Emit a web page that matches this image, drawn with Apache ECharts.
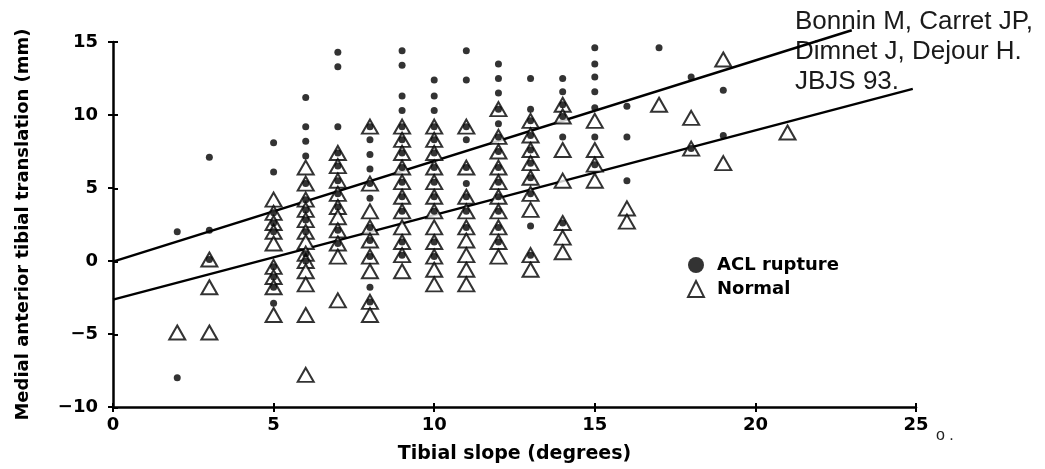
<!DOCTYPE html>
<html>
<head>
<meta charset="utf-8">
<script src="https://cdn.jsdelivr.net/npm/echarts@6/dist/echarts.min.js"></script>
<style>
  html, body { margin: 0; padding: 0; background: #fff; }
  #chart { width: 1045px; height: 469px; }
</style>
</head>
<body>
<div id="chart"></div>
<script>
// columns: [tibial slope (deg), [medial anterior tibial translation (mm), ...]]
const aclCols = [
  [2, [2.0, -8.0]],
  [3, [7.1, 2.1, 0.1]],
  [5, [8.1, 6.1, 3.3, 2.6, 2.0, -0.4, -1.1, -1.8, -2.9]],
  [6, [11.2, 9.2, 8.2, 7.2, 5.3, 4.2, 3.5, 2.8, 2.0, 0.5, 0.0]],
  [7, [14.3, 13.3, 9.2, 7.4, 6.5, 5.5, 4.6, 3.7, 2.1, 1.2]],
  [8, [9.2, 8.3, 7.3, 6.3, 5.3, 4.3, 2.3, 1.4, 0.3, -1.8, -2.8]],
  [9, [14.4, 13.4, 11.3, 10.3, 9.2, 8.3, 7.4, 6.4, 5.4, 4.4, 3.4, 1.3, 0.4]],
  [10, [15.4, 12.4, 11.3, 10.3, 9.2, 8.3, 7.4, 6.4, 5.4, 4.4, 3.4, 1.3, 0.3]],
  [11, [15.4, 14.4, 12.4, 9.2, 8.3, 6.4, 5.3, 4.4, 3.4, 2.3]],
  [12, [13.5, 12.5, 11.5, 10.4, 9.4, 8.5, 7.5, 6.4, 5.4, 4.4, 3.4, 2.3, 1.3]],
  [13, [12.5, 10.4, 9.6, 8.6, 7.6, 6.7, 5.7, 4.6, 2.4, 0.4]],
  [14, [12.5, 11.6, 10.7, 9.9, 8.5, 2.6]],
  [15, [14.6, 13.5, 12.6, 11.6, 10.5, 8.5, 6.6]],
  [16, [10.6, 8.5, 5.5]],
  [17, [14.6]],
  [18, [12.6, 7.7]],
  [19, [11.7, 8.6]]
];

const normalCols = [
  [2, [-4.9]],
  [3, [0.1, -1.8, -4.9]],
  [5, [4.2, 3.3, 2.6, 2.0, 1.2, -0.4, -1.1, -1.8, -3.7]],
  [6, [6.4, 5.3, 4.2, 3.5, 2.8, 2.0, 1.3, 0.5, 0.0, -0.7, -1.6, -3.7, -7.8]],
  [7, [7.4, 6.5, 5.5, 4.6, 3.7, 3.0, 2.1, 1.2, 0.3, -2.7]],
  [8, [9.2, 5.3, 3.4, 2.3, 1.4, 0.3, -0.7, -2.8, -3.7]],
  [9, [9.2, 8.3, 7.4, 6.4, 5.4, 4.4, 3.4, 2.3, 1.3, 0.4, -0.7]],
  [10, [9.2, 8.3, 7.4, 6.4, 5.4, 4.4, 3.4, 2.3, 1.3, 0.3, -0.6, -1.6]],
  [11, [9.2, 6.4, 4.4, 3.4, 2.3, 1.4, 0.4, -0.6, -1.6]],
  [12, [10.4, 8.5, 7.5, 6.4, 5.4, 4.4, 3.4, 2.3, 1.3, 0.3]],
  [13, [9.6, 8.6, 7.6, 6.7, 5.7, 4.6, 3.5, 0.4, -0.6]],
  [14, [10.7, 9.9, 7.6, 5.5, 2.6, 1.6, 0.6]],
  [15, [9.6, 7.6, 6.6, 5.5]],
  [16, [3.6, 2.7]],
  [17, [10.7]],
  [18, [9.8, 7.7]],
  [19, [13.8, 6.7]],
  [21, [8.8]]
];

// regression lines (end points)
const aclFit = [[0, 0], [23, 15.8]];
const normalFit = [[0, -2.6], [24.9, 11.8]];

const citation = ['Bonnin M, Carret JP,', 'Dimnet J, Dejour H.', 'JBJS 93.'];

// 展开成 [x, y]
function flatten(cols) {
  let ret = [];
  cols.forEach(c => {
    c[1].forEach(v => ret.push([c[0], v]));
  });
  return ret;
}

const ink = '#000';
const boldFont = 'DejaVu Sans';
const gridBox = { left: 113, right: 129, top: 42, bottom: 61 };

// 第二个 grid 画朝内的刻度，让刻度穿过轴线（回归线挂在这组轴上）
function innerTickAxis(min, max, gridIndex) {
  return {
    type: 'value',
    gridIndex: gridIndex,
    min: min, max: max, interval: 5,
    axisLine: { show: false, onZero: false },
    axisTick: { show: true, inside: true, length: 5, lineStyle: { color: ink, width: 2 } },
    axisLabel: { show: false },
    splitLine: { show: false }
  };
}

const myChart = echarts.init(document.getElementById('chart'));

const option = {
  backgroundColor: '#fff',
  animation: false,
  grid: [gridBox, Object.assign({}, gridBox)],
  xAxis: [
    {
      type: 'value',
      gridIndex: 0,
      min: 0, max: 25, interval: 5,
      name: 'Tibial slope (degrees)',
      nameLocation: 'middle',
      nameGap: 38,
      nameTextStyle: { fontFamily: boldFont, fontWeight: 'bold', fontSize: 19, color: ink },
      axisLine: { onZero: false, lineStyle: { color: ink, width: 2.5 } },
      axisTick: { length: 5, lineStyle: { color: ink, width: 2 } },
      axisLabel: { margin: 9, fontFamily: boldFont, fontWeight: 'bold', fontSize: 18, color: ink },
      splitLine: { show: false }
    },
    innerTickAxis(0, 25, 1)
  ],
  yAxis: [
    {
      type: 'value',
      gridIndex: 0,
      min: -10, max: 15, interval: 5,
      name: 'Medial anterior tibial translation (mm)',
      nameLocation: 'middle',
      nameGap: 81,
      nameTextStyle: { fontFamily: boldFont, fontWeight: 'bold', fontSize: 18, color: ink },
      axisLine: { onZero: false, lineStyle: { color: ink, width: 2.5 } },
      axisTick: { length: 5, lineStyle: { color: ink, width: 2 } },
      axisLabel: {
        margin: 15,
        fontFamily: boldFont, fontWeight: 'bold', fontSize: 18, color: ink,
        formatter: v => v < 0 ? '\u2212' + Math.abs(v) : String(v)
      },
      splitLine: { show: false }
    },
    innerTickAxis(-10, 15, 1)
  ],
  legend: {
    orient: 'vertical',
    left: 687,
    top: 256,
    itemWidth: 16,
    itemHeight: 16,
    itemGap: 6,
    padding: 0,
    data: ['ACL rupture', 'Normal'],
    textStyle: { fontFamily: boldFont, fontWeight: 'bold', fontSize: 18, color: ink, padding: [0, 0, 0, 8] }
  },
  graphic: [
    {
      type: 'text',
      left: 795,
      top: 7,
      style: {
        text: citation.join('\n'),
        fontFamily: 'Liberation Sans',
        fontSize: 26,
        lineHeight: 30,
        fill: '#1a1a1a'
      }
    },
    {
      type: 'text',
      left: 936,
      top: 428,
      style: { text: 'o .', fontFamily: 'Liberation Sans', fontSize: 16, fill: '#222' }
    }
  ],
  series: [
    {
      name: 'ACL rupture',
      type: 'scatter',
      data: flatten(aclCols),
      symbol: 'circle',
      symbolSize: 7,
      itemStyle: { color: ink },
      z: 5
    },
    {
      name: 'Normal',
      type: 'scatter',
      data: flatten(normalCols),
      symbol: 'triangle',
      symbolSize: [16, 14],
      itemStyle: { color: '#fff', borderColor: ink, borderWidth: 2 },
      z: 4
    },
    {
      name: 'ACL fit',
      type: 'line',
      xAxisIndex: 1,
      yAxisIndex: 1,
      data: aclFit,
      symbol: 'none',
      silent: true,
      clip: false,
      lineStyle: { color: ink, width: 2.5 },
      z: 3
    },
    {
      name: 'Normal fit',
      type: 'line',
      xAxisIndex: 1,
      yAxisIndex: 1,
      data: normalFit,
      symbol: 'none',
      silent: true,
      clip: false,
      lineStyle: { color: ink, width: 2.5 },
      z: 3
    }
  ]
};

myChart.setOption(option);
</script>
</body>
</html>
